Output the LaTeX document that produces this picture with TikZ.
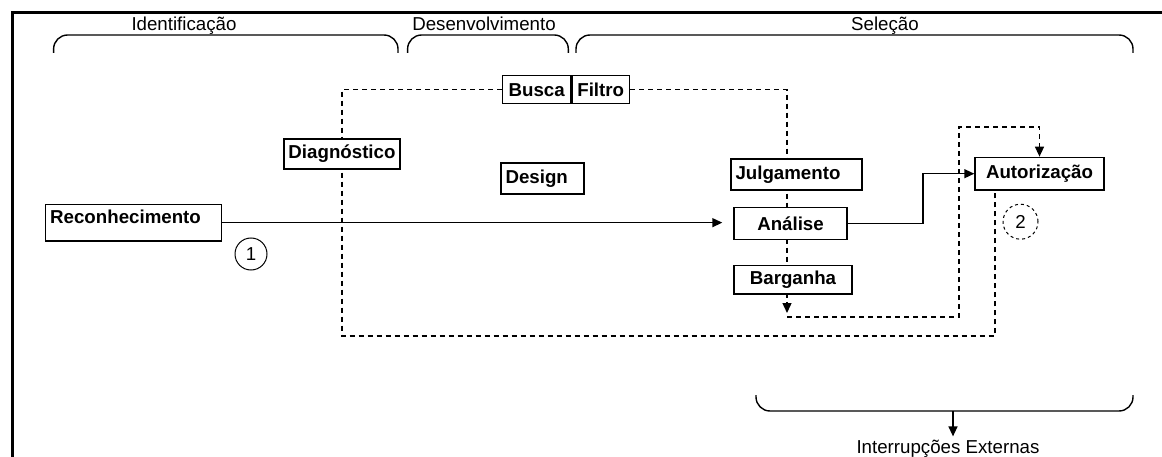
\documentclass[tikz,border=0pt]{standalone}
\usepackage{fontspec}
\setmainfont{Liberation Sans}
\usetikzlibrary{arrows.meta,backgrounds}
\newcommand{\diagfont}{\fontsize{18.7}{22}\selectfont}
\tikzstyle{box}=[draw=black,fill=white,line width=1.4pt,inner sep=0pt,font=\diagfont\bfseries]
\tikzstyle{lbox}=[box,align=left,inner xsep=4.5pt]
\tikzstyle{phase}=[font=\diagfont,anchor=base,inner sep=0pt]
\tikzstyle{brace}=[line width=1.4pt,rounded corners=14pt]
\tikzstyle{flow}=[line width=1.4pt,-{Triangle[length=10pt,width=9pt]}]
\tikzstyle{back}=[line width=1.4pt,dash pattern=on 5pt off 4pt]

\begin{document}
\begin{tikzpicture}[x=1pt,y=-1pt]
\useasboundingbox (0,0) rectangle (1162,457);
% frame and phases
\draw[line width=3pt] (12.5,457) -- (12.5,12.5) -- (1162,12.5);
\draw[brace] (53.6,53) -- (53.6,35) -- (398,35) -- (398,53)
	(407.6,53) -- (407.6,35) -- (568.3,35) -- (568.3,53)
	(576,53) -- (576,35) -- (1133,35) -- (1133,53)
	(756,395) -- (756,411) -- (1133,411) -- (1133,395);
\node[phase] (ident) at (184,31) {Identificação};
\node[phase] (desen) at (484,31) {Desenvolvimento};
\node[phase] (sel) at (885,31) {Seleção};
\node[phase,inner sep=3pt] (ext) at (948,453) {Interrupções Externas};
\coordinate (brb) at (953,411);
\draw[flow] (brb) -- (brb |- ext.north);
% routines
\node[box,minimum width=68pt,minimum height=28pt] (busca) at (536.7,89.7) {Busca};
\node[box,minimum width=57.3pt,minimum height=28pt] (filtro) at (600.7,89.7) {Filtro};
\node[box,minimum width=116pt,minimum height=30pt] (diag) at (342,154) {Diagnóstico};
\node[lbox,text width=74pt,minimum height=31pt] (design) at (542.5,178.7) {Design};
\node[lbox,text width=167pt,text height=19.7pt,text depth=17pt,inner ysep=0pt] (rec) at (133.7,222.65) {Reconhecimento};
\node[lbox,text width=122pt,minimum height=31pt] (julg) at (796.5,174.5) {Julgamento};
\node[box,minimum width=113pt,minimum height=31.6pt] (ana) at (790.5,223.5) {Análise};
\node[box,minimum width=118pt,minimum height=28.3pt] (barg) at (793,279.9) {Barganha};
\node[box,minimum width=129pt,minimum height=32.7pt] (aut) at (1039.5,173.7) {Autorização};
\node[circle,draw,line width=1pt,minimum size=32pt,inner sep=0pt,font=\diagfont] (one) at (251,254) {1};
\node[circle,draw,line width=1pt,dash pattern=on 3pt off 3pt,minimum size=35pt,inner sep=0pt,font=\diagfont] (two) at (1020.5,221.7) {2};
% main flow
\coordinate (turn) at (923,200);
\draw[flow,shorten >=11pt] (rec.east) -- (rec.east -| ana.west);
\draw[flow] (ana.east) -| (turn) |- (aut.west);
% dashed loops
\coordinate (nw) at (342,89.7);
\coordinate (sw) at (342,336);
\coordinate (se) at (995,336);
\coordinate (ne) at (787,89.7);
\coordinate (tip) at (787,313);
\coordinate (ib) at (959,317);
\coordinate (it) at (959,127);
\begin{scope}[on background layer]
\draw[back] (busca.west) -- (nw) -- (sw) -- (se) -- (se |- aut.south);
\draw[back,-{Triangle[length=10pt,width=9pt]}] (filtro.east) -- (ne) -- (tip);
\draw[back,-{Triangle[length=10pt,width=9pt]}] (tip |- ib) -- (ib) -- (it) -| (aut.north);
\end{scope}
\end{tikzpicture}
\end{document}
